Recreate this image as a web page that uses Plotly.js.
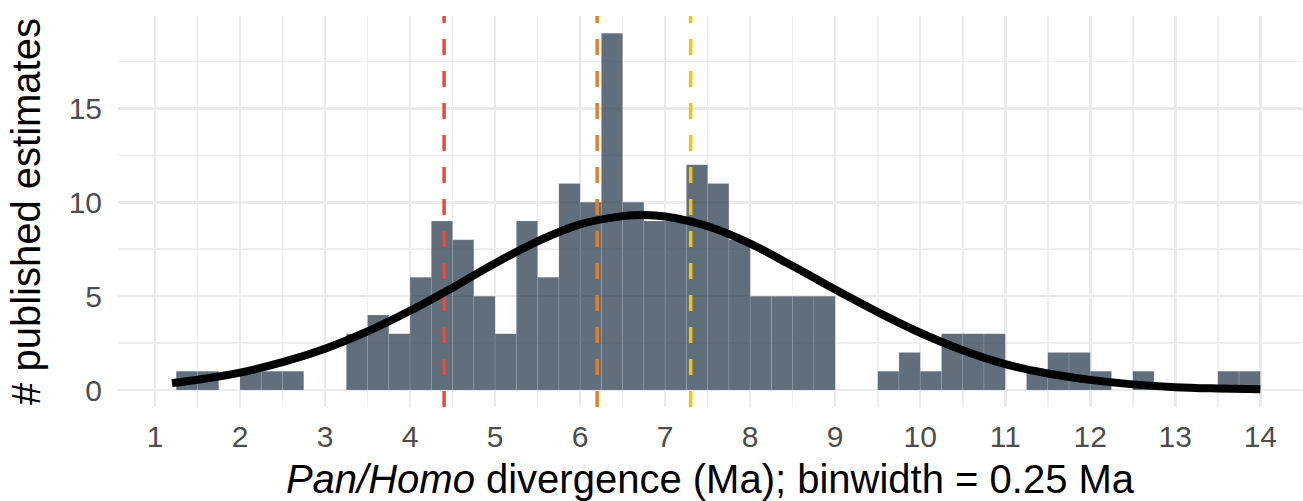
<!DOCTYPE html>
<html>
<head>
<meta charset="utf-8">
<script src="https://cdn.plot.ly/plotly-3.0.1.min.js"></script>
<style>
  html, body { margin: 0; padding: 0; background: #ffffff; }
  #chart { width: 1303px; height: 501px; }
</style>
</head>
<body>
<div id="chart"></div>
<script>
// Histogram bins (left edge of each 0.25 Ma bin) and counts of published estimates
const binStarts = [1.25, 1.5, 2.0, 2.25, 2.5, 3.25, 3.5, 3.75, 4.0, 4.25, 4.5, 4.75,
                   5.0, 5.25, 5.5, 5.75, 6.0, 6.25, 6.5, 6.75, 7.0, 7.25, 7.5, 7.75,
                   8.0, 8.25, 8.5, 8.75, 9.5, 9.75, 10.0, 10.25, 10.5, 10.75,
                   11.25, 11.5, 11.75, 12.0, 12.5, 13.5, 13.75];
const binCounts = [1, 1, 1, 1, 1, 3, 4, 3, 6, 9, 8, 5,
                   3, 9, 6, 11, 10, 19, 10, 9, 9, 12, 11, 8,
                   5, 5, 5, 5, 1, 2, 1, 3, 3, 3,
                   1, 2, 2, 1, 1, 1, 1];
const binWidth = 0.25;

// Fitted curve
const curveX = [1.2, 1.5, 2, 2.5, 3, 3.5, 4, 4.5, 5, 5.5, 6, 6.5, 6.75, 7, 7.5, 8, 8.5, 9,
                9.5, 10, 10.5, 11, 11.5, 12, 12.5, 13, 13.5, 14];
const curveY = [0.37, 0.55, 0.93, 1.48, 2.2, 3.12, 4.22, 5.45, 6.75, 7.92, 8.82, 9.26, 9.32, 9.24,
                8.72, 7.8, 6.6, 5.35, 4.15, 3.05, 2.12, 1.38, 0.88, 0.54, 0.3, 0.15, 0.08, 0.04];

// Reference dates (dashed vertical lines)
const refDates = [4.4, 6.2, 7.3];
const refColors = ['#E74C3C', '#E67E22', '#F1C40F'];

// Axis ticks
const xTicks = [1, 2, 3, 4, 5, 6, 7, 8, 9, 10, 11, 12, 13, 14];
const yTicks = [0, 5, 10, 15];

const xRange = [0.565, 14.49];
const yRange = [-0.905, 19.92];

const traces = [];
traces.push({
  type: 'bar',
  x: binStarts,
  y: binCounts,
  width: binWidth,
  offset: 0,
  marker: { color: 'rgba(44,62,80,0.75)', line: { color: 'rgba(255,255,255,0.22)', width: 0.6 } },
  hoverinfo: 'skip',
  showlegend: false
});
refDates.forEach(function (d, i) {
  traces.push({
    type: 'scatter',
    mode: 'lines',
    x: [d, d],
    y: [yRange[0], yRange[1]],
    line: { color: refColors[i], width: 3.5, dash: '16px,16px' },
    hoverinfo: 'skip',
    showlegend: false
  });
});
traces.push({
  type: 'scatter',
  mode: 'lines',
  x: curveX,
  y: curveY,
  line: { color: '#000000', width: 8, shape: 'spline', smoothing: 1 },
  hoverinfo: 'skip',
  showlegend: false
});

const fontFam = 'Liberation Sans, Arial, Helvetica, sans-serif';
const layout = {
  width: 1303,
  height: 501,
  margin: { l: 118, r: 1, t: 16, b: 94, pad: 0 },
  paper_bgcolor: '#ffffff',
  plot_bgcolor: '#ffffff',
  bargap: 0,
  showlegend: false,
  hovermode: false,
  font: { family: fontFam, color: '#000000' },
  xaxis: {
    range: xRange,
    tickmode: 'array',
    tickvals: xTicks,
    ticktext: xTicks.map(String),
    ticks: '',
    showline: false,
    zeroline: false,
    showgrid: true,
    gridcolor: '#EBEBEB',
    gridwidth: 2.5,
    minor: { dtick: 0.5, tick0: 0, showgrid: true, gridcolor: '#EFEFEF', gridwidth: 1.6, ticks: '' },
    tickfont: { family: fontFam, size: 30, color: '#4D4D4D' },
    ticklabelstandoff: 9,
    title: { text: '<i>Pan/Homo</i> divergence (Ma); binwidth = 0.25 Ma',
             font: { family: fontFam, size: 40, color: '#000000' }, standoff: 14 },
    automargin: false,
    fixedrange: true
  },
  yaxis: {
    range: yRange,
    tickmode: 'array',
    tickvals: yTicks,
    ticktext: yTicks.map(String),
    ticks: '',
    showline: false,
    zeroline: false,
    showgrid: true,
    gridcolor: '#EBEBEB',
    gridwidth: 2.5,
    minor: { dtick: 2.5, tick0: 0, showgrid: true, gridcolor: '#EFEFEF', gridwidth: 1.6, ticks: '' },
    tickfont: { family: fontFam, size: 30, color: '#4D4D4D' },
    ticklabelstandoff: 15,
    title: { text: '# published estimates',
             font: { family: fontFam, size: 40, color: '#000000' }, standoff: 15 },
    automargin: false,
    fixedrange: true
  }
};

Plotly.newPlot('chart', traces, layout, { displayModeBar: false, staticPlot: true });
</script>
</body>
</html>
